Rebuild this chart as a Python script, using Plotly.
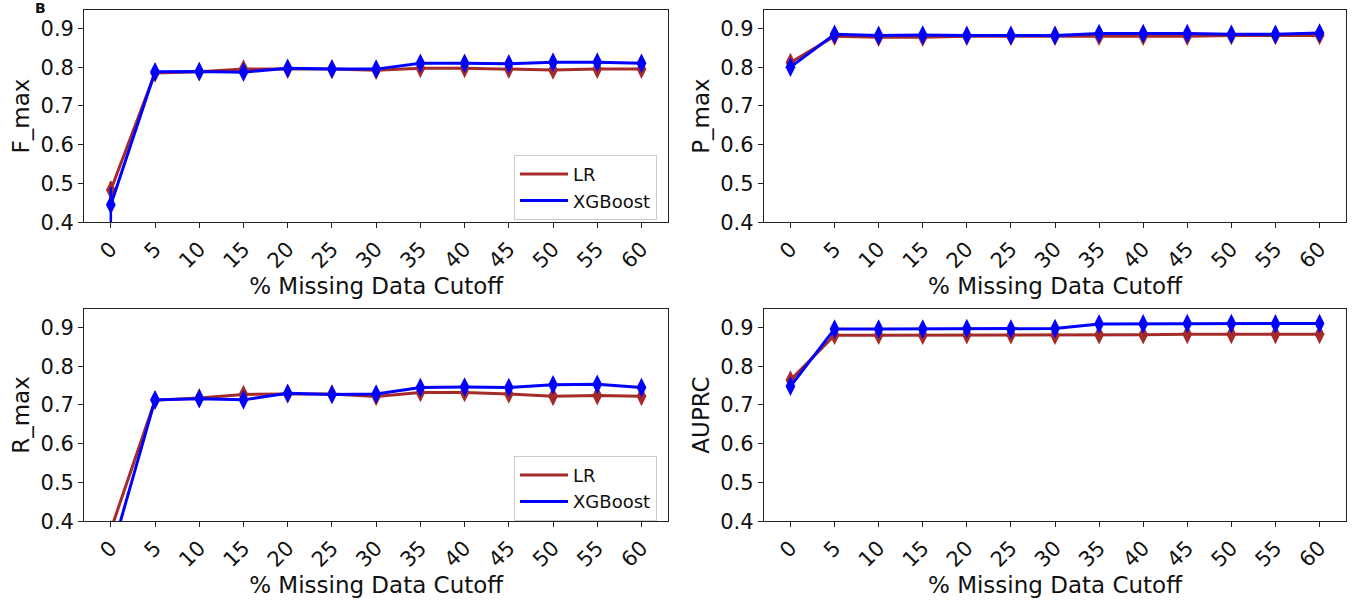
import plotly.graph_objects as go

cutoffs = [0, 5, 10, 15, 20, 25, 30, 35, 40, 45, 50, 55, 60]
tick_labels = [str(c) for c in cutoffs]

fmax_lr = [0.483, 0.785, 0.788, 0.795, 0.795, 0.795, 0.792, 0.797, 0.797, 0.795, 0.793, 0.795, 0.795]
fmax_xgb = [0.445, 0.788, 0.789, 0.787, 0.797, 0.795, 0.795, 0.810, 0.810, 0.809, 0.813, 0.813, 0.810]
fmax_lr_err = [0.022, 0.006, 0.005, 0.006, 0.005, 0.005, 0.006, 0.006, 0.006, 0.006, 0.006, 0.005, 0.006]
fmax_xgb_err = [0.045, 0.006, 0.005, 0.006, 0.005, 0.005, 0.005, 0.005, 0.005, 0.005, 0.005, 0.005, 0.005]

pmax_lr = [0.812, 0.880, 0.877, 0.877, 0.880, 0.880, 0.880, 0.880, 0.880, 0.880, 0.882, 0.882, 0.882]
pmax_xgb = [0.800, 0.885, 0.882, 0.883, 0.882, 0.882, 0.882, 0.887, 0.887, 0.887, 0.885, 0.885, 0.888]
pmax_lr_err = [0.008, 0.004, 0.005, 0.005, 0.004, 0.004, 0.004, 0.005, 0.005, 0.005, 0.004, 0.004, 0.005]
pmax_xgb_err = [0.010, 0.004, 0.004, 0.004, 0.004, 0.004, 0.004, 0.004, 0.004, 0.004, 0.004, 0.004, 0.004]

rmax_lr = [0.378, 0.712, 0.718, 0.727, 0.728, 0.728, 0.722, 0.732, 0.732, 0.728, 0.722, 0.724, 0.722]
rmax_xgb = [0.313, 0.713, 0.716, 0.713, 0.730, 0.727, 0.728, 0.745, 0.746, 0.745, 0.752, 0.753, 0.745]
rmax_lr_err = [0.020, 0.008, 0.008, 0.008, 0.007, 0.007, 0.008, 0.007, 0.007, 0.007, 0.008, 0.008, 0.008]
rmax_xgb_err = [0.025, 0.008, 0.008, 0.009, 0.007, 0.007, 0.007, 0.007, 0.007, 0.007, 0.007, 0.007, 0.007]

auprc_lr = [0.764, 0.880, 0.880, 0.880, 0.881, 0.881, 0.880, 0.881, 0.881, 0.882, 0.882, 0.882, 0.882]
auprc_xgb = [0.748, 0.896, 0.896, 0.896, 0.897, 0.896, 0.897, 0.909, 0.909, 0.910, 0.910, 0.909, 0.910]
auprc_lr_err = [0.006, 0.005, 0.005, 0.005, 0.005, 0.005, 0.005, 0.005, 0.005, 0.005, 0.005, 0.005, 0.005]
auprc_xgb_err = [0.010, 0.004, 0.004, 0.004, 0.004, 0.004, 0.004, 0.004, 0.004, 0.004, 0.004, 0.004, 0.004]

panels = [
    ("F_max", fmax_lr, fmax_lr_err, fmax_xgb, fmax_xgb_err, "x", "y"),
    ("P_max", pmax_lr, pmax_lr_err, pmax_xgb, pmax_xgb_err, "x2", "y2"),
    ("R_max", rmax_lr, rmax_lr_err, rmax_xgb, rmax_xgb_err, "x3", "y3"),
    ("AUPRC", auprc_lr, auprc_lr_err, auprc_xgb, auprc_xgb_err, "x4", "y4"),
]

LR_COLOR = "#a52a2a"
XGB_COLOR = "#0000ff"
FONT = "DejaVu Sans"

fig = go.Figure()

for name, lr, lre, xg, xge, xa, ya in panels:
    for vals, errs, col in ((lr, lre, LR_COLOR), (xg, xge, XGB_COLOR)):
        fig.add_trace(go.Scatter(
            x=cutoffs, y=vals, xaxis=xa, yaxis=ya, mode="lines+markers",
            line=dict(color=col, width=3),
            marker=dict(symbol="diamond-tall", size=14, color=col),
            error_y=dict(type="data", array=errs, color=col, thickness=2.5, width=0),
            showlegend=False, cliponaxis=True,
        ))

# legend-only traces (lines)
for lg in ("legend", "legend2"):
    for nm, col in (("LR", LR_COLOR), ("XGBoost", XGB_COLOR)):
        fig.add_trace(go.Scatter(
            x=[None], y=[None], mode="lines", name=nm,
            line=dict(color=col, width=3), legend=lg, showlegend=True,
            xaxis="x", yaxis="y",
        ))

W, H = 1358, 607
xdom_l = [84.3 / W, 668 / W]
xdom_r = [764 / W, 1346 / W]
ydom_t = [1 - 226.7 / H, 1 - 10 / H]
ydom_b = [1 - 531.7 / H, 1 - 315 / H]

axis_common = dict(
    showline=True, linecolor="#222222", linewidth=1.3, mirror=True,
    ticks="outside", ticklen=5, tickwidth=1.2, tickcolor="#222222",
    showgrid=False, zeroline=False,
    tickfont=dict(family=FONT, size=21, color="#111111"),
)

layout = dict(
    width=W, height=H, margin=dict(l=0, r=0, t=0, b=0),
    paper_bgcolor="white", plot_bgcolor="white",
    font=dict(family=FONT, color="#111111"),
)

xdoms = [xdom_l, xdom_r, xdom_l, xdom_r]
ydoms = [ydom_t, ydom_t, ydom_b, ydom_b]
for i, (name, *_rest) in enumerate(panels):
    sfx = "" if i == 0 else str(i + 1)
    layout["xaxis" + sfx] = dict(
        axis_common, domain=xdoms[i], range=[-3, 63],
        tickvals=cutoffs, ticktext=tick_labels, tickangle=-45,
        anchor="y" + sfx,
        title=dict(text="% Missing Data Cutoff", font=dict(family=FONT, size=23), standoff=4),
    )
    layout["yaxis" + sfx] = dict(
        axis_common, domain=ydoms[i], range=[0.4, 0.948],
        tickvals=[0.4, 0.5, 0.6, 0.7, 0.8, 0.9], tickformat=".1f",
        anchor="x" + sfx,
        title=dict(text=name, font=dict(family=FONT, size=23), standoff=4),
    )

leg_common = dict(
    xanchor="right", yanchor="top", bgcolor="white",
    bordercolor="#cccccc", borderwidth=1,
    font=dict(family=FONT, size=18, color="#111111"),
    itemwidth=48, tracegroupgap=0,
)
layout["legend"] = dict(leg_common, x=657 / W, y=1 - 158 / H)
layout["legend2"] = dict(leg_common, x=657 / W, y=1 - 465 / H)

layout["annotations"] = [dict(
    text="<b>B</b>", x=40 / W, y=1, xref="paper", yref="paper",
    xanchor="center", yanchor="top", yshift=2, showarrow=False,
    font=dict(family=FONT, size=14, color="#111111"),
)]

fig.update_layout(**layout)
fig.write_html("out.html")
